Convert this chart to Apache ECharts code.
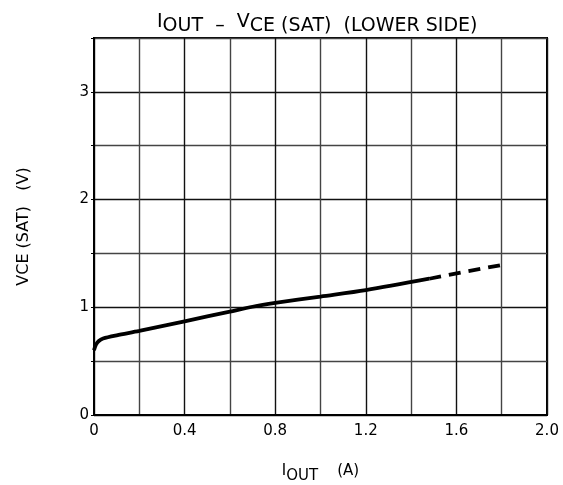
<!DOCTYPE html>
<html>
<head>
<meta charset="utf-8">
<script src="https://cdn.jsdelivr.net/npm/echarts@6/dist/echarts.min.js"></script>
<style>html,body{margin:0;padding:0;background:#fff;}#c{width:563px;height:485px;}</style>
</head>
<body>
<div id="c"></div>
<script>
const solidCurve = [[0,0.6],[0.008,0.65],[0.02,0.685],[0.04,0.71],[0.1,0.74],[0.2,0.78],[0.4,0.87],[0.6,0.96],[0.7,1.005],[0.8,1.04],[1.0,1.10],[1.2,1.16],[1.48,1.265]];
const dashedCurve = [[1.48,1.265],[1.65,1.335],[1.82,1.40]];
const xTickLabels = ['0','0.4','0.8','1.2','1.6','2.0'];
const yTickLabels = ['0','1','2','3'];

const FONT = 'DejaVu Sans';
const chart = echarts.init(document.getElementById('c'));
chart.setOption({
  backgroundColor: '#fff',
  animation: false,
  textStyle: {fontFamily: FONT, color: '#000'},
  title: {
    text: '{m|I}{s|OUT}{s|  –  }{m|V}{s|CE (SAT)  (LOWER SIDE)}',
    left: 152, top: 8,
    textStyle: {
      fontWeight: 'normal',
      rich: {
        m: {fontSize: 19, fontFamily: FONT, fontWeight: 'normal', color: '#000', verticalAlign: 'top', lineHeight: 24},
        s: {fontSize: 19, fontFamily: FONT, fontWeight: 'normal', color: '#000', verticalAlign: 'top', lineHeight: 24, padding: [4,0,0,0]}
      }
    }
  },
  grid: {left: 94, right: 16, top: 38, bottom: 70, show: true, borderColor: '#000', borderWidth: 2, containLabel: false, outerBoundsMode: 'none'},
  xAxis: {
    type: 'value', min: 0, max: 2.0, interval: 0.2,
    name: '{s|I}{b|OUT}{s|    (A)}',
    nameLocation: 'middle', nameGap: 49,
    nameTextStyle: {rich: {
      s: {fontSize: 15, fontFamily: FONT, color: '#000', verticalAlign: 'top', lineHeight: 20},
      b: {fontSize: 15, fontFamily: FONT, color: '#000', verticalAlign: 'top', lineHeight: 20, padding: [5,0,0,0]}
    }},
    axisLine: {show: true, lineStyle: {color: '#000', width: 2}},
    axisTick: {show: false},
    axisLabel: {
      fontSize: 15, color: '#000', fontFamily: FONT, margin: 9,
      formatter: function (v) {
        const r = Math.round(v * 10) / 10;
        const i = Math.round(r / 0.4 * 1000) / 1000;
        if (Math.abs(i - Math.round(i)) < 1e-6) return xTickLabels[Math.round(i)];
        return '';
      }
    },
    splitLine: {show: true, lineStyle: {color: ['#111', '#444'], width: 1.4}}
  },
  yAxis: {
    type: 'value', min: 0, max: 3.5, interval: 0.5,
    name: '{s|VCE (SAT)   (V)}',
    nameLocation: 'middle', nameGap: 60, nameRotate: 90,
    nameTextStyle: {rich: {
      s: {fontSize: 16, fontFamily: FONT, color: '#000', lineHeight: 20}
    }},
    axisLine: {show: true, lineStyle: {color: '#000', width: 2}},
    axisTick: {show: true, length: 3, lineStyle: {color: '#000'}},
    axisLabel: {
      fontSize: 15, color: '#000', fontFamily: FONT, margin: 5,
      formatter: function (v) {
        const r = Math.round(v * 10) / 10;
        if (Math.abs(r - Math.round(r)) < 1e-6) return yTickLabels[Math.round(r)];
        return '';
      }
    },
    splitLine: {show: true, lineStyle: {color: ['#111', '#444'], width: 1.4}}
  },
  series: [
    {type: 'line', data: solidCurve, smooth: 0.3, symbol: 'none', lineStyle: {color: '#000', width: 3.8}},
    {type: 'line', data: dashedCurve, smooth: false, symbol: 'none', lineStyle: {color: '#000', width: 3.8, type: [12, 8]}}
  ]
});
</script>
</body>
</html>
